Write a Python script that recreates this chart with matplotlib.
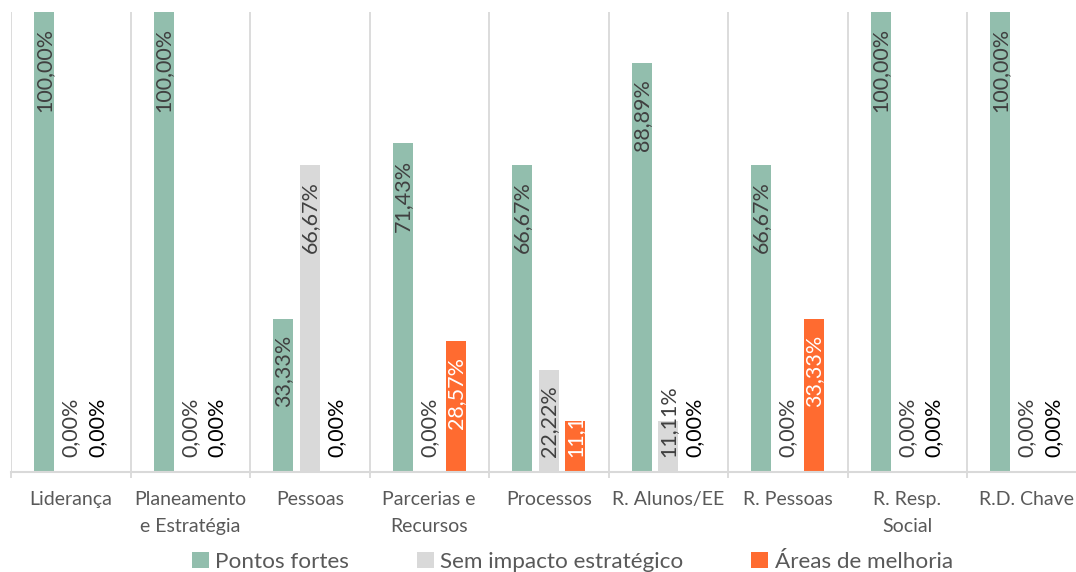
import matplotlib.pyplot as plt
import numpy as np

plt.rcParams['font.family'] = ['Lato', 'DejaVu Sans']

categorias = ['Liderança', 'Planeamento\ne Estratégia', 'Pessoas', 'Parcerias e\nRecursos',
              'Processos', 'R. Alunos/EE', 'R. Pessoas', 'R. Resp.\nSocial', 'R.D. Chave']
pontos_fortes = [100.00, 100.00, 33.33, 71.43, 66.67, 88.89, 66.67, 100.00, 100.00]
sem_impacto = [0.00, 0.00, 66.67, 0.00, 22.22, 11.11, 0.00, 0.00, 0.00]
areas_melhoria = [0.00, 0.00, 0.00, 28.57, 11.11, 0.00, 33.33, 0.00, 0.00]

series = [
    ('Pontos fortes', pontos_fortes, '#92bead', -0.222),
    ('Sem impacto estratégico', sem_impacto, '#d9d9d9', 0.0),
    ('Áreas de melhoria', areas_melhoria, '#ff6b30', 0.222),
]

fig = plt.figure(figsize=(10.76, 5.72), dpi=100)
ax = fig.add_axes([11 / 1076, 1 - 472 / 572, 1075.5 / 1076, 460 / 572])

x = np.arange(len(categorias))
largura = 0.167

for nome, valores, cor, desloc in series:
    ax.bar(x + desloc, valores, largura, color=cor, label=nome, zorder=2)
    for xi, v in zip(x + desloc, valores):
        txt = f'{v:.2f}%'.replace('.', ',')
        if nome == 'Áreas de melhoria':
            tcor = 'white' if v > 0 else 'black'
        else:
            tcor = '#404040'
        if v < 25:
            ax.annotate(txt, (xi, 0), xytext=(0, 11), textcoords='offset points',
                        rotation=90, ha='center', va='bottom', fontsize=15.5, color=tcor, zorder=3)
        else:
            ax.annotate(txt, (xi, v), xytext=(0, -11.5), textcoords='offset points',
                        rotation=90, ha='center', va='top', fontsize=15.5, color=tcor, zorder=3)

# separadores entre categorias
for b in np.arange(len(categorias) - 1) + 0.5:
    ax.axvline(b, color='#d9d9d9', lw=1.3, zorder=1)
ax.axvline(-0.5, color='#d9d9d9', lw=1.3, zorder=1)

ax.set_xlim(-0.5, len(categorias) - 0.5)
ax.set_ylim(0, 100)
ax.set_yticks([])
ax.set_xticks(x)
ax.set_xticklabels(categorias, fontsize=14, color='#595959', linespacing=1.7)
ax.tick_params(axis='x', length=0, pad=14)
ax.set_xticks(np.arange(len(categorias)) - 0.5, minor=True)
ax.tick_params(axis='x', which='minor', length=4, color='#d9d9d9', width=1.3)

for s in ['top', 'left', 'right']:
    ax.spines[s].set_visible(False)
ax.spines['bottom'].set_color('#d9d9d9')
ax.spines['bottom'].set_linewidth(1.5)

fig.legend(loc='center', bbox_to_anchor=(0.532, 10 / 572), ncol=3, frameon=False,
           fontsize=16.2, handlelength=0.75, handleheight=0.75, handletextpad=0.3,
           columnspacing=3.0, labelcolor='#595959')

fig.savefig('out.png', dpi=100)
